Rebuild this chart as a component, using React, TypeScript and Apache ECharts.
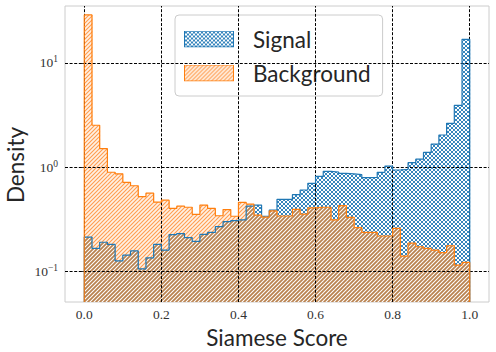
import React, { useEffect, useRef } from 'react';
import * as echarts from 'echarts';

// ---- data ----
const binEdges = Array.from({ length: 51 }, (_, i) => +(i * 0.02).toFixed(2));

const signalDensity = [
  0.212, 0.165, 0.189, 0.18, 0.125, 0.142, 0.156, 0.105, 0.134, 0.18,
  0.159, 0.224, 0.229, 0.209, 0.193, 0.225, 0.235, 0.267, 0.298, 0.305,
  0.31, 0.42, 0.43, 0.336, 0.386, 0.489, 0.489, 0.542, 0.601, 0.697,
  0.813, 0.908, 0.895, 0.869, 0.857, 0.844, 0.79, 0.795, 0.889, 1.02,
  0.936, 0.95, 1.1, 1.19, 1.38, 1.66, 2.03, 2.63, 3.92, 16.9,
];

const backgroundDensity = [
  29, 2.52, 1.5, 0.89, 0.86, 0.71, 0.66, 0.52, 0.56, 0.46,
  0.48, 0.4, 0.42, 0.41, 0.35, 0.43, 0.4, 0.34, 0.39, 0.336,
  0.457, 0.44, 0.345, 0.33, 0.378, 0.338, 0.338, 0.392, 0.353, 0.404,
  0.41, 0.41, 0.31, 0.425, 0.328, 0.261, 0.235, 0.235, 0.217, 0.217,
  0.257, 0.139, 0.185, 0.171, 0.165, 0.159, 0.15, 0.175, 0.114, 0.121,
];

const xTickValues = [0, 0.2, 0.4, 0.6, 0.8, 1.0];
const yTickExponents = [-1, 0, 1];
const seriesNames = ['Signal', 'Background'];

const X_MIN = -0.05;
const X_MAX = 1.05;
const Y_MIN = -1.298; // log10 density
const Y_MAX = 1.548;

const SERIF = "'Liberation Serif', 'DejaVu Serif', serif";
const SANS = "Lato, 'Noto Sans', sans-serif";

const BLUE = '#1f77b4';
const ORANGE = '#ff7f0e';

function hatchPath(dirs: string) {
  let d = '';
  if (dirs.includes('/')) d += 'M-2,2L2,-2M-2,6L6,-2M-2,10L10,-2M2,10L10,2M6,10L10,6';
  if (dirs.includes('\\')) d += 'M-2,6L2,10M-2,2L6,10M-2,-2L10,10M2,-2L10,6M6,-2L10,2';
  return d;
}

function tileSvg(bg: string, stroke: string, w: number, dirs: string) {
  return `<rect width="8" height="8" fill="${bg}"/><path d="${hatchPath(dirs)}" stroke="${stroke}" stroke-width="${w}" fill="none"/>`;
}

function toUrl(svg: string) {
  return 'data:image/svg+xml;charset=utf-8,' + encodeURIComponent(svg);
}

function tilePattern(bg: string, stroke: string, w: number, dirs: string) {
  const svg = `<svg xmlns="http://www.w3.org/2000/svg" width="8" height="8">${tileSvg(bg, stroke, w, dirs)}</svg>`;
  return { image: toUrl(svg), repeat: 'repeat', imageWidth: 8, imageHeight: 8 };
}

function legendIcon(bg: string, stroke: string, w: number, dirs: string, edge: string) {
  const svg = `<svg xmlns="http://www.w3.org/2000/svg" width="50" height="17"><defs><pattern id="p" width="8" height="8" patternUnits="userSpaceOnUse">${tileSvg(bg, stroke, w, dirs)}</pattern></defs><rect x="0.5" y="0.5" width="49" height="16" fill="url(#p)" stroke="${edge}" stroke-width="1"/></svg>`;
  return 'image://' + toUrl(svg);
}

const signalStyle = ['#ffffff', BLUE, 0.9, '/\\'] as const;
const backgroundStyle = ['#fff1e4', '#ff9d50', 1.1, '/'] as const;
const overlapStyle = ['#b9824f', '#ffffff', 1.05, '/'] as const;

export default function App() {
  const ref = useRef<HTMLDivElement>(null);
  useEffect(() => {
    if (!ref.current) return;
    const chart = echarts.init(ref.current, null, { renderer: 'svg' });

    const signalFill = tilePattern(...signalStyle);
    const backgroundFill = tilePattern(...backgroundStyle);
    const overlapFill = tilePattern(...overlapStyle);

    const logS = signalDensity.map((v) => Math.log10(v));
    const logB = backgroundDensity.map((v) => Math.log10(v));
    const logO = signalDensity.map((v, i) => Math.log10(Math.min(v, backgroundDensity[i])));

    const makeFill = (name: string, vals: number[], fill: any, z: number) => ({
      type: 'custom',
      name,
      z,
      silent: true,
      data: vals.map((v, i) => [i, v]),
      encode: { x: 0, y: 1 },
      renderItem: (params: any, api: any) => {
        const i = api.value(0);
        const L = api.value(1);
        const p0 = api.coord([binEdges[i], L]);
        const p1 = api.coord([binEdges[i + 1], Y_MIN]);
        return {
          type: 'rect',
          shape: { x: p0[0], y: p0[1], width: p1[0] - p0[0] + 0.4, height: p1[1] - p0[1] },
          style: { fill, stroke: null },
        };
      },
    });

    const makeEdge = (name: string, vals: number[], color: string, z: number, extra: any = {}) => {
      const pts: number[][] = [[binEdges[0], Y_MIN]];
      vals.forEach((v, i) => pts.push([binEdges[i], v]));
      pts.push([binEdges[vals.length], vals[vals.length - 1]]);
      pts.push([binEdges[vals.length], Y_MIN]);
      return {
        type: 'line',
        name,
        z,
        step: 'end',
        showSymbol: false,
        symbol: 'none',
        silent: true,
        data: pts,
        lineStyle: { color, width: 1.2 },
        ...extra,
      };
    };

    const supText = (v: number) => (v < 0 ? '\u2212' + -v : String(v));

    chart.setOption({
      animation: false,
      backgroundColor: '#ffffff',
      grid: {
        left: 65,
        right: 7,
        top: 6,
        bottom: 50,
        show: true,
        borderColor: '#cccccc',
        borderWidth: 1,
        backgroundColor: 'transparent',
        containLabel: false,
        outerBoundsMode: 'none',
      },
      legend: {
        data: [
          { name: seriesNames[0], icon: legendIcon(...signalStyle, BLUE) },
          { name: seriesNames[1], icon: legendIcon(...backgroundStyle, ORANGE) },
        ],
        orient: 'vertical',
        left: 175,
        top: 15,
        itemWidth: 50,
        itemHeight: 17,
        itemGap: 8,
        padding: [11, 12, 10, 9],
        backgroundColor: 'rgba(255,255,255,0.85)',
        borderColor: '#cccccc',
        borderWidth: 1,
        borderRadius: 4,
        selectedMode: false,
        textStyle: {
          fontFamily: SANS,
          fontSize: 22.5,
          color: '#262626',
          lineHeight: 26,
          padding: [0, 0, 0, 14],
        },
      },
      xAxis: {
        type: 'value',
        min: X_MIN,
        max: X_MAX,
        axisLine: { show: false },
        axisTick: { show: false },
        splitLine: { show: false },
        axisLabel: {
          customValues: xTickValues,
          formatter: (v: number) => v.toFixed(1),
          fontFamily: SERIF,
          fontSize: 13.5,
          color: '#333333',
          margin: 5,
        },
        name: 'Siamese Score',
        nameLocation: 'middle',
        nameGap: 16,
        nameTextStyle: { fontFamily: SANS, fontSize: 22.5, color: '#262626' },
      },
      yAxis: {
        type: 'value',
        min: Y_MIN,
        max: Y_MAX,
        axisLine: { show: false },
        splitLine: { show: false },
        axisTick: {
          show: true,
          customValues: yTickExponents,
          length: 3,
          lineStyle: { color: '#333333', width: 1 },
        },
        axisLabel: {
          customValues: yTickExponents,
          formatter: (v: number) => `{b|10}{s|${supText(v)}}`,
          margin: 7,
          rich: {
            b: { fontFamily: SERIF, fontSize: 13.5, color: '#333333' },
            s: { fontFamily: SERIF, fontSize: 9.5, color: '#333333', padding: [0, 0, 7, 0] },
          },
        },
        name: 'Density',
        nameLocation: 'middle',
        nameGap: 38,
        nameMoveOverlap: false,
        nameTextStyle: {
          fontFamily: SANS,
          fontSize: 22.5,
          color: '#262626',
          padding: [0, 22, 0, 0],
        },
      },
      series: [
        makeFill(seriesNames[0], logS, signalFill, 2),
        makeFill(seriesNames[1], logB, backgroundFill, 3),
        makeFill('Overlap', logO, overlapFill, 4),
        makeEdge('Signal edge', logS, BLUE, 5),
        makeEdge('Background edge', logB, ORANGE, 6, {
          markLine: {
            silent: true,
            symbol: 'none',
            label: { show: false },
            lineStyle: { color: '#000000', type: [3, 1.6], width: 1 },
            data: [
              ...xTickValues.map((v) => ({ xAxis: v })),
              ...yTickExponents.map((v) => ({ yAxis: v })),
            ],
          },
        }),
      ],
    });
    return () => chart.dispose();
  }, []);
  return (
    <div
      ref={ref}
      style={{ position: 'absolute', left: 0, top: 0, width: 496, height: 352 }}
    />
  );
}
